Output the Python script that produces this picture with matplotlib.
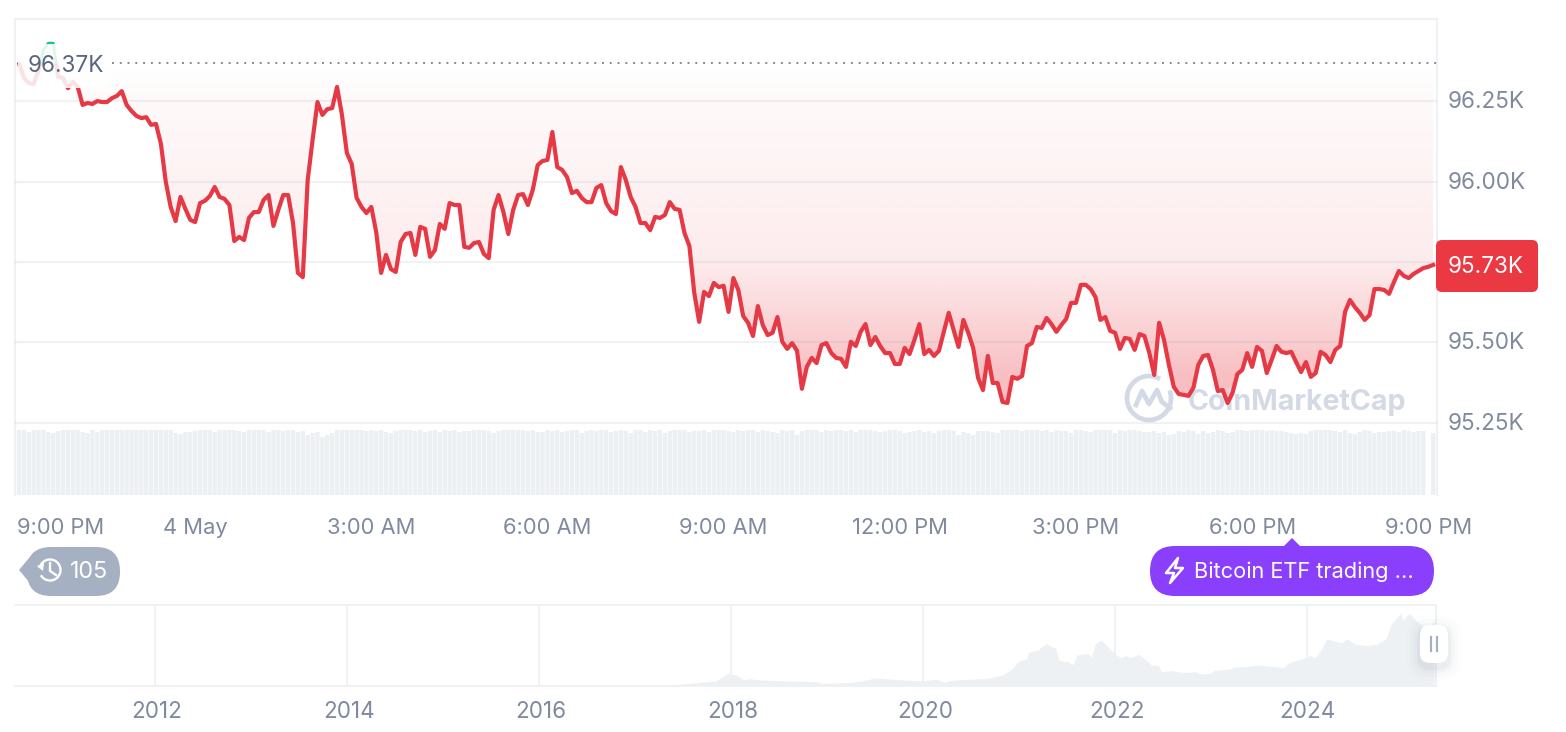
import numpy as np
import matplotlib
matplotlib.use("Agg")
import matplotlib.pyplot as plt
from matplotlib.patches import FancyBboxPatch, Polygon, Arc, Rectangle, PathPatch
from matplotlib.lines import Line2D
from matplotlib.transforms import Affine2D, ScaledTranslation

plt.rcParams['font.family'] = ['Inter', 'DejaVu Sans']

# ---------- data ----------
prices = [
96368,96322,96306,96303,96346,96409,96430,96430,96325,96322,96290,96309,96294,96238,96244,96241,96250,96247,96247,96259,
96266,96281,96238,96219,96204,96197,96200,96176,96179,96117,95999,95921,95877,95952,95915,95881,95874,95933,95940,95955,
95983,95952,95946,95927,95815,95828,95818,95887,95905,95905,95943,95958,95862,95912,95958,95958,95871,95716,95703,96005,
96129,96247,96207,96225,96228,96294,96207,96089,96054,95949,95921,95902,95921,95843,95716,95772,95728,95719,95812,95837,
95840,95772,95859,95853,95766,95787,95868,95853,95933,95927,95927,95797,95794,95809,95812,95775,95762,95912,95958,95905,
95837,95912,95958,95961,95927,95974,96051,96064,96067,96154,96045,96036,96014,95964,95971,95949,95936,95936,95980,95989,
95933,95908,95899,96045,96005,95952,95921,95871,95871,95849,95890,95887,95896,95936,95915,95912,95840,95800,95654,95564,
95657,95644,95685,95672,95676,95595,95700,95663,95582,95561,95520,95613,95554,95523,95530,95579,95502,95480,95498,95474,
95356,95424,95452,95436,95492,95498,95467,95452,95449,95424,95502,95489,95533,95557,95492,95517,95489,95467,95467,95433,
95433,95483,95464,95508,95557,95464,95477,95458,95474,95533,95592,95539,95486,95570,95530,95483,95390,95352,95458,95374,
95374,95315,95312,95393,95387,95396,95489,95498,95548,95545,95576,95557,95533,95554,95573,95623,95623,95679,95679,95666,
95641,95570,95579,95536,95530,95480,95514,95511,95477,95526,95520,95467,95399,95561,95508,95430,95362,95340,95337,95334,
95359,95430,95458,95461,95415,95349,95352,95312,95343,95402,95415,95467,95424,95486,95474,95405,95446,95489,95471,95467,
95471,95439,95408,95439,95393,95405,95471,95461,95439,95477,95489,95595,95632,95610,95592,95570,95585,95666,95666,95663,
95651,95688,95722,95707,95700,95713,95722,95731,95735,95741,
]
volumes = [
65,65,63,65,65,65,63,62,64,65,65,65,65,63,62,65,63,65,65,65,
65,65,65,65,65,65,65,65,65,65,65,65,62,61,63,63,64,65,65,65,
63,65,65,65,65,64,63,65,65,65,65,63,65,65,64,65,65,63,64,60,
62,63,58,60,62,65,65,65,65,65,65,64,65,64,65,63,62,64,65,65,
65,64,65,63,64,65,63,65,64,65,63,64,64,65,65,65,64,62,64,65,
65,65,65,65,64,65,63,63,65,64,65,63,64,65,65,62,64,65,64,65,
65,63,64,65,64,62,65,65,63,65,64,65,62,64,65,65,65,63,64,64,
65,63,65,65,65,64,63,65,64,65,65,63,65,64,63,62,65,64,65,60,
64,65,65,65,63,65,64,65,65,64,65,63,65,65,65,64,63,64,65,65,
64,62,63,64,65,63,64,62,64,65,65,64,60,63,62,60,64,64,64,63,
62,65,65,65,65,64,65,65,65,64,65,63,65,64,64,62,65,65,64,63,
65,65,65,65,62,65,64,65,65,64,63,63,64,62,63,60,61,64,63,65,
64,61,64,62,63,65,64,62,63,65,65,64,65,65,65,64,65,64,64,63,
62,61,62,61,64,65,65,65,65,64,63,65,62,61,63,65,64,62,63,63,
64,64,63,65,64,63,64,64,0,62,
]
time_ticks = [0, 3, 6, 9, 12, 15, 18, 21, 24]
time_labels = ['9:00 PM', '4 May', '3:00 AM', '6:00 AM', '9:00 AM', '12:00 PM', '3:00 PM', '6:00 PM', '9:00 PM']
price_ticks = [95250, 95500, 95750, 96000, 96250]
price_labels = ['95.25K', '95.50K', '', '96.00K', '96.25K']
open_price = 96368
open_label = '96.37K'
last_label = '95.73K'
history_years = [2010.54,2013.3,2013.95,2015.0,2016.0,2016.9,2017.2,2017.33,2017.6,2017.85,2017.97,2018.06,2018.13,2018.18,2018.3,2018.54,2018.9,2018.93,
2019.24,2019.38,2019.5,2019.73,2020.0,2020.14,2020.21,2020.32,2020.55,2020.68,2020.83,2020.91,2021.0,2021.07,2021.1,2021.19,2021.28,2021.34,2021.375,2021.41,
2021.45,2021.5,2021.56,2021.6,2021.72,2021.75,2021.79,2021.85,2021.93,2022.0,2022.06,2022.1,2022.17,2022.24,2022.31,2022.375,2022.45,2022.48,2022.58,2022.7,
2022.84,2022.9,2022.99,2023.03,2023.19,2023.24,2023.375,2023.48,2023.64,2023.75,2023.81,2023.92,2024.03,2024.08,2024.15,2024.2,2024.25,2024.36,2024.41,2024.5,
2024.61,2024.73,2024.82,2024.875,2024.97,2025.0,2025.06,2025.14,2025.25,2025.32]
history_prices = [0,130,1000,300,430,800,1100,1400,4200,8000,19000,16000,9000,11000,9000,7500,6400,4000,
5000,8000,12000,9500,7500,10300,5500,9000,10500,11500,16500,24000,37000,40000,50000,53000,63000,58000,57000,39000,
37000,36000,32000,46000,48000,42000,62000,68000,57000,47000,42000,45000,42000,47000,40000,31000,30000,21000,23000,20000,
21000,17500,19000,23000,25000,28000,29000,31000,29000,27000,35000,39000,45000,42000,55000,70000,68000,64000,70000,62000,
60000,62000,70000,92000,108000,97000,108000,96000,84000,96000]
year_ticks = [2012, 2014, 2016, 2018, 2020, 2022, 2024]

# ---------- style ----------
RED = '#e53945'; BADGE_RED = '#ea3943'; GREEN = '#16c784'; GRID = '#eff2f5'; LABEL = '#808a9d'; DARK = '#58667e'
WM = '#d3dae6'; PILL = '#a6b0c3'; PURPLE = '#8a3ffc'
W, H = 1566, 732
FS = 15.8
FS_PRICE = 16.2

fig = plt.figure(figsize=(W/100, H/100), dpi=100, facecolor='white')
px = Affine2D().scale(1, -1).translate(0, H)

def axes_px(x0, y0, x1, y1, **kw):
    return fig.add_axes([x0/W, 1-y1/H, (x1-x0)/W, (y1-y0)/H], **kw)

def nudge(label, dx, dy):
    label.set_transform(label.get_transform() + ScaledTranslation(dx/100, dy/100, fig.dpi_scale_trans))

hours = np.arange(len(prices)) * 5 / 60
p = np.array(prices, float)
xlim = (-0.068, 24.149)
ylim = (95026, 96505)

# volume strip, behind the price panel
axv = axes_px(15, 19, 1437, 495, zorder=0)
bars = axv.bar(np.arange(len(volumes)) * 5 / 60, volumes, width=0.074, color='#edf0f3', linewidth=0)
for b in bars:
    b.set_snap(False)
axv.set_xlim(xlim); axv.set_ylim(0, 476); axv.axis('off')

# price panel
ax = axes_px(15, 19, 1437, 495, zorder=1)
ax.patch.set_alpha(0)
ax.set_xlim(xlim); ax.set_ylim(ylim)

# gradient fill between the opening level and the line
poly = ax.fill_between(hours, p, open_price, color='none', linewidth=0)
clip = poly.get_paths()[0]
n = 400
levels = np.linspace(open_price, 95290, n)
alpha = np.interp(levels, [95290, 95400, 95490, 95750, 96250, open_price], [0.33, 0.32, 0.26, 0.10, 0.03, 0.0])
rgba = np.zeros((n, 1, 4))
rgba[..., :3] = matplotlib.colors.to_rgb(BADGE_RED)
rgba[:, 0, 3] = alpha
im = ax.imshow(rgba, extent=(hours[0], hours[-1], 95290, open_price), aspect='auto', origin='upper', zorder=1, interpolation='bilinear')
im.set_clip_path(PathPatch(clip, transform=ax.transData))
ax.fill_between(hours, p, open_price, where=p >= open_price, interpolate=True, color=GREEN, alpha=0.12, linewidth=0, zorder=1)
ax.set_xlim(xlim); ax.set_ylim(ylim)

# watermark
fig_wm = dict(transform=px, color=WM, clip_on=False, zorder=3)
ax.add_patch(Arc((1149, 398), 44, 44, theta1=-20, theta2=300, transform=px, color=WM, lw=3.4, zorder=3, clip_on=False))
ax.add_line(Line2D([1136, 1142, 1149, 1157, 1162, 1170], [405, 391, 404, 390, 402, 408], lw=3.4, solid_joinstyle='round', **fig_wm))
ax.text(1188, 401.5, 'CoinMarketCap', transform=px, color=WM, fontsize=20.6, fontweight='bold', va='center', ha='left', zorder=3, clip_on=False)

# line, red below the opening level, green above
red_line, = ax.plot(hours, p, color=RED, lw=3.0, solid_joinstyle='round', zorder=4)
red_line.set_clip_path(Rectangle((xlim[0], ylim[0]), xlim[1]-xlim[0], open_price-ylim[0], transform=ax.transData))
green_line, = ax.plot(hours, p, color=GREEN, lw=2.0, solid_joinstyle='round', zorder=4)
green_line.set_clip_path(Rectangle((xlim[0], open_price), xlim[1]-xlim[0], ylim[1]-open_price, transform=ax.transData))

ax.plot([1.58, xlim[1]], [open_price, open_price], color=LABEL, lw=1.4, ls=(0, (1, 3)), zorder=3)

# axes furniture
ax.yaxis.tick_right()
ax.set_yticks(price_ticks, price_labels)
ax.set_xticks(time_ticks, time_labels)
ax.tick_params(axis='x', length=0, labelsize=FS, labelcolor=LABEL, pad=16.5)
ax.tick_params(axis='y', length=0, labelsize=FS_PRICE, labelcolor=LABEL, pad=8)
ax.grid(axis='y', color=LABEL, alpha=0.11, lw=1.5, zorder=2)
ax.set_axisbelow(False)
for s in ax.spines.values():
    s.set_color(GRID); s.set_linewidth(1.5)
ax.spines['bottom'].set_visible(False)
xt = ax.get_xticklabels()
xt[0].set_ha('left')
nudge(xt[0], -2, 0)
for lab in ax.get_yticklabels():
    nudge(lab, 0, 1.5)

# opening price label
ax.add_patch(FancyBboxPatch((24, 50), 80, 32, boxstyle='round,pad=6,rounding_size=8', transform=px, fc='white', ec='none', alpha=0.86, zorder=5, clip_on=False))
ax.text(65.5, 66.5, open_label, transform=px, color=DARK, fontsize=FS_PRICE, ha='center', va='center', zorder=6)

# last price label
ax.add_patch(FancyBboxPatch((1436, 240), 102, 52, boxstyle='round,pad=0,rounding_size=6', transform=px, fc=BADGE_RED, ec='none', zorder=7, clip_on=False))
ax.text(1485.5, 267, last_label, transform=px, color='white', fontsize=FS_PRICE, ha='center', va='center', zorder=8, clip_on=False)

# overview panel
axm = axes_px(15, 605, 1436, 686, zorder=1)
axm.fill_between(history_years, history_prices, 0, color='#eef1f4', linewidth=0, zorder=2)
axm.set_xlim(2010.54, 2025.34)
axm.set_ylim(0, 119900)
axm.set_yticks([])
axm.set_xticks(year_ticks, [str(y) for y in year_ticks])
axm.tick_params(axis='x', length=0, labelsize=16.2, labelcolor=LABEL, pad=11)
axm.grid(axis='x', color=GRID, lw=1.4, zorder=1)
for k, s in axm.spines.items():
    s.set_color(GRID); s.set_linewidth(1.4)
axm.spines['left'].set_visible(False)
for lab in axm.get_xticklabels()[:-1]:
    nudge(lab, 1.5, 0)

# top layer: badges and handle, in pixels
top = fig.add_axes([0, 0, 1, 1], zorder=5)
top.set_axis_off(); top.patch.set_alpha(0)
def add(a):
    top.add_artist(a)
    return a
# history badge
add(FancyBboxPatch((27, 547), 93, 49, boxstyle='round,pad=0,rounding_size=24', transform=px, fc=PILL, ec='none'))
add(Polygon([(19, 570), (34, 552), (34, 588)], closed=True, transform=px, fc=PILL, ec='none'))
add(Arc((50, 570), 21, 21, theta1=-170, theta2=150, transform=px, color='white', lw=1.7))
add(Polygon([(37, 566), (44, 563), (43, 571)], closed=True, transform=px, fc='white', ec='none'))
add(Line2D([50, 50, 56], [563, 571, 575], transform=px, color='white', lw=1.7))
top.text(70, 571.5, '105', transform=px, color='white', fontsize=16.8, ha='left', va='center')
# news badge
add(FancyBboxPatch((1150, 546), 284, 50, boxstyle='round,pad=0,rounding_size=25', transform=px, fc=PURPLE, ec='none'))
add(Polygon([(1283, 547), (1292, 538), (1301, 547)], closed=True, transform=px, fc=PURPLE, ec='none'))
add(Polygon([(1178, 558), (1166, 573), (1174, 573), (1170, 583), (1183, 568), (1175, 568)], closed=True, transform=px, fc='none', ec='white', lw=1.8, joinstyle='round'))
top.text(1194, 571.5, 'Bitcoin ETF trading ...', transform=px, color='white', fontsize=15.7, ha='left', va='center')
# range handle
for pad_, a_ in [(14, 0.012), (10, 0.02), (6, 0.03), (3, 0.05)]:
    add(FancyBboxPatch((1420-pad_, 626-pad_+3), 28+2*pad_, 38+2*pad_, boxstyle='round,pad=0,rounding_size=%d' % (10+pad_), transform=px, fc='#58667e', ec='none', alpha=a_))
add(FancyBboxPatch((1420, 625), 28, 38, boxstyle='round,pad=0,rounding_size=10', transform=px, fc='white', ec='none'))
add(Line2D([1431, 1431], [637, 651], transform=px, color=PILL, lw=1.6))
add(Line2D([1437, 1437], [637, 651], transform=px, color=PILL, lw=1.6))

fig.savefig('out.png', dpi=100)
